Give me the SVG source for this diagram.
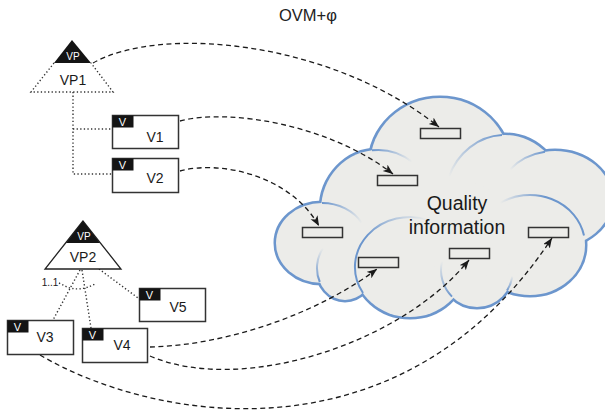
<svg xmlns="http://www.w3.org/2000/svg" width="605" height="416" viewBox="0 0 605 416">
<style>
  text { font-family: "Liberation Sans", Arial, sans-serif; }
  .lbl { font-size: 14px; fill: #1a1a1a; text-anchor: middle; }
  .tag { font-size: 11px; fill: #ffffff; text-anchor: middle; }
  .vp { font-size: 10px; fill: #ffffff; text-anchor: middle; }
  .box { fill: #ffffff; stroke: #333333; stroke-width: 1.5; }
  .tagbg { fill: #141414; }
  .dot { fill: none; stroke: #333333; stroke-width: 1.4; stroke-dasharray: 1.3 2.3; }
  .conn { fill: none; stroke: #1a1a1a; stroke-width: 1.3; stroke-dasharray: 5 3.5; marker-end: url(#arr); }
  .cs { fill: #ecece9; stroke: #6c96cd; stroke-width: 5; }
  .cf { fill: #ecece9; stroke: none; }
  .inner { fill: none; stroke-width: 2; }
  .slot { fill: #ecece9; stroke: #333333; stroke-width: 1.5; }
</style>
<defs>
  <marker id="arr" markerUnits="userSpaceOnUse" markerWidth="11" markerHeight="9" refX="10" refY="4" orient="auto">
    <path d="M0,0 L10,4 L0,8 L2.5,4 z" fill="#1a1a1a"/>
  </marker>
  <linearGradient id="g1" gradientUnits="userSpaceOnUse" x1="372" y1="150" x2="412" y2="162"><stop offset="0" stop-color="#6c96cd"/><stop offset="1" stop-color="#6c96cd" stop-opacity="0"/></linearGradient>
  <linearGradient id="g2" gradientUnits="userSpaceOnUse" x1="322" y1="203" x2="362" y2="223"><stop offset="0" stop-color="#6c96cd"/><stop offset="1" stop-color="#6c96cd" stop-opacity="0"/></linearGradient>
  <linearGradient id="g3" gradientUnits="userSpaceOnUse" x1="320" y1="282" x2="323" y2="248"><stop offset="0" stop-color="#6c96cd"/><stop offset="1" stop-color="#6c96cd" stop-opacity="0"/></linearGradient>
  <linearGradient id="g4" gradientUnits="userSpaceOnUse" x1="363" y1="293" x2="430" y2="220"><stop offset="0" stop-color="#6c96cd"/><stop offset="0.45" stop-color="#6c96cd"/><stop offset="1" stop-color="#6c96cd" stop-opacity="0"/></linearGradient>
  <linearGradient id="g5" gradientUnits="userSpaceOnUse" x1="502" y1="135" x2="449" y2="177"><stop offset="0" stop-color="#6c96cd"/><stop offset="1" stop-color="#6c96cd" stop-opacity="0"/></linearGradient>
  <linearGradient id="g6" gradientUnits="userSpaceOnUse" x1="545" y1="152" x2="510" y2="170"><stop offset="0" stop-color="#6c96cd"/><stop offset="1" stop-color="#6c96cd" stop-opacity="0"/></linearGradient>
  <linearGradient id="g7" gradientUnits="userSpaceOnUse" x1="500" y1="203" x2="545" y2="196"><stop offset="0" stop-color="#6c96cd" stop-opacity="0"/><stop offset="1" stop-color="#6c96cd"/></linearGradient>
  <linearGradient id="g8" gradientUnits="userSpaceOnUse" x1="452" y1="297" x2="442" y2="261"><stop offset="0" stop-color="#6c96cd"/><stop offset="1" stop-color="#6c96cd" stop-opacity="0"/></linearGradient>
  <linearGradient id="g9" gradientUnits="userSpaceOnUse" x1="507" y1="291" x2="512" y2="276"><stop offset="0" stop-color="#6c96cd"/><stop offset="1" stop-color="#6c96cd" stop-opacity="0"/></linearGradient>
</defs>

<text x="308" y="21" font-size="16.5" fill="#222222" text-anchor="middle">OVM+φ</text>

<g id="cloud">
  <g>
    <ellipse class="cs" cx="440" cy="165" rx="70" ry="67"/>
    <ellipse class="cs" cx="378" cy="210" rx="57" ry="60"/>
    <ellipse class="cs" cx="322" cy="243" rx="46" ry="40"/>
    <ellipse class="cs" cx="345" cy="268" rx="28" ry="32"/>
    <ellipse class="cs" cx="410" cy="267" rx="55" ry="50"/>
    <ellipse class="cs" cx="477" cy="270" rx="36" ry="37"/>
    <ellipse class="cs" cx="530" cy="245" rx="55" ry="50"/>
    <ellipse class="cs" cx="555" cy="199" rx="57" ry="48"/>
    <ellipse class="cs" cx="505" cy="200" rx="60" ry="65"/>
  </g>
  <g>
    <ellipse class="cf" cx="440" cy="165" rx="70" ry="67"/>
    <ellipse class="cf" cx="378" cy="210" rx="57" ry="60"/>
    <ellipse class="cf" cx="322" cy="243" rx="46" ry="40"/>
    <ellipse class="cf" cx="345" cy="268" rx="28" ry="32"/>
    <ellipse class="cf" cx="410" cy="267" rx="55" ry="50"/>
    <ellipse class="cf" cx="477" cy="270" rx="36" ry="37"/>
    <ellipse class="cf" cx="530" cy="245" rx="55" ry="50"/>
    <ellipse class="cf" cx="555" cy="199" rx="57" ry="48"/>
    <ellipse class="cf" cx="505" cy="200" rx="60" ry="65"/>
    <ellipse class="cf" cx="455" cy="225" rx="55" ry="45"/>
  </g>
  <g>
    <path class="inner" stroke="url(#g1)" d="M372,150.3 A57,60 0 0 1 412,161.8"/>
    <path class="inner" stroke="url(#g2)" d="M322,203 A46,40 0 0 1 362,223.2"/>
    <path class="inner" stroke="url(#g3)" d="M319.8,282 A28,32 0 0 1 323,248.2"/>
    <path class="inner" stroke="url(#g4)" d="M363,293 A55,50 0 0 1 430,220.4"/>
    <path class="inner" stroke="url(#g5)" d="M502,135.1 A60,65 0 0 0 449,176.6"/>
    <path class="inner" stroke="url(#g6)" d="M545,151.7 A57,48 0 0 0 510,169.5"/>
    <path class="inner" stroke="url(#g7)" d="M500,203.1 A55,50 0 0 1 584,235.5"/>
    <path class="inner" stroke="url(#g8)" d="M452,296.6 A36,37 0 0 1 442,261.3"/>
    <path class="inner" stroke="url(#g9)" d="M507,290.5 A36,37 0 0 0 512.5,276"/>
  </g>
  <rect class="slot" x="420.5" y="128.5" width="40" height="10"/>
  <rect class="slot" x="377.5" y="175.5" width="40" height="10"/>
  <rect class="slot" x="302.5" y="227.5" width="40" height="10"/>
  <rect class="slot" x="358.5" y="257.5" width="40" height="10"/>
  <rect class="slot" x="449.5" y="248.5" width="40" height="10"/>
  <rect class="slot" x="528.5" y="227.5" width="40" height="10"/>
  <text x="457" y="210" font-size="19.5" fill="#1a1a1a" text-anchor="middle">Quality</text>
  <text x="457" y="234" font-size="19.5" fill="#1a1a1a" text-anchor="middle">information</text>
</g>

<g id="connectors">
  <path class="dot" d="M54,63 L31,92 L113,92 L91,63"/>
  <path class="dot" d="M73,92 L73,174 L112,174 M73,129 L112,129"/>
  <path class="dot" d="M80,270 L53,320 M82,270 L91,328 M99,269 L138,298"/>
  <path class="dot" d="M59,283 L67,287 Q80,292 95,284"/>
  <path class="conn" d="M93,63 C160,25 330,40 439,127"/>
  <path class="conn" d="M180,121 C230,108 330,125 393,174"/>
  <path class="conn" d="M180,171 C220,160 290,175 319,226"/>
  <path class="conn" d="M150,347 C230,345 320,312 377,269"/>
  <path class="conn" d="M150,356 C240,395 400,345 469,260"/>
  <path class="conn" d="M40,355 C150,420 400,468 552,238"/>
</g>

<g id="VP1">
  <polygon points="72,40 54,63 91,63" fill="#141414"/>
  <text class="vp" x="73" y="60">VP</text>
  <text class="lbl" x="73" y="85">VP1</text>
</g>

<g id="VP2">
  <polygon points="83,221 45,269 121,269" fill="#ffffff" stroke="#222222" stroke-width="1.3" stroke-linejoin="miter"/>
  <polygon points="83,221 66,243 100,243" fill="#141414"/>
  <text class="vp" x="84" y="240">VP</text>
  <text class="lbl" x="83" y="262">VP2</text>
  <text x="50" y="286" font-size="10" fill="#1a1a1a" text-anchor="middle">1..1</text>
</g>

<g id="V1">
  <rect class="box" x="112.5" y="115.5" width="66" height="33"/>
  <rect class="tagbg" x="112.5" y="115.5" width="21" height="12"/>
  <text class="tag" x="122.5" y="125.5">V</text>
  <text class="lbl" x="155" y="142">V1</text>
</g>

<g id="V2">
  <rect class="box" x="112.5" y="158.5" width="66" height="34"/>
  <rect class="tagbg" x="112.5" y="158.5" width="21" height="12"/>
  <text class="tag" x="122.5" y="168.5">V</text>
  <text class="lbl" x="155" y="183">V2</text>
</g>

<g id="V3">
  <rect class="box" x="7.5" y="320.5" width="66" height="34"/>
  <rect class="tagbg" x="7.5" y="320.5" width="21" height="12"/>
  <text class="tag" x="17.5" y="330.5">V</text>
  <text class="lbl" x="45" y="342">V3</text>
</g>

<g id="V4">
  <rect class="box" x="82.5" y="328.5" width="65" height="34"/>
  <rect class="tagbg" x="82.5" y="328.5" width="21" height="12"/>
  <text class="tag" x="92.5" y="338.5">V</text>
  <text class="lbl" x="122" y="350">V4</text>
</g>

<g id="V5">
  <rect class="box" x="139.5" y="288.5" width="66" height="33"/>
  <rect class="tagbg" x="139.5" y="288.5" width="21" height="12"/>
  <text class="tag" x="149.5" y="298.5">V</text>
  <text class="lbl" x="178" y="312">V5</text>
</g>
</svg>
